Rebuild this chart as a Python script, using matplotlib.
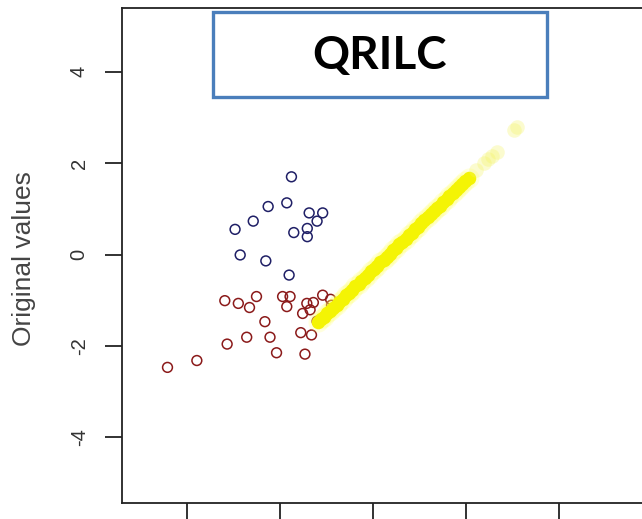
import matplotlib
matplotlib.use('Agg')
import matplotlib.pyplot as plt
from matplotlib.patches import Rectangle

# blue (imputed, upper group)
blue_x = [-1.75, -1.85, -2.25, -2.57, -2.96, -1.37, -1.08, -1.20, -1.70, -1.41, -1.41, -2.85, -2.30, -1.80]
blue_y = [1.70, 1.13, 1.05, 0.73, 0.55, 0.91, 0.91, 0.73, 0.48, 0.57, 0.39, -0.01, -0.14, -0.45]

# red (imputed, lower group)
red_x = [-3.18, -2.89, -2.65, -2.50, -1.94, -1.78, -1.85, -1.42, -1.28, -1.35, -1.51, -1.08, -0.91,
         -0.89, -1.20, -2.32, -2.71, -2.21, -1.55, -1.32, -3.13, -2.07, -1.46, -3.78, -4.41]
red_y = [-1.01, -1.07, -1.16, -0.92, -0.92, -0.92, -1.14, -1.07, -1.05, -1.21, -1.29, -0.89, -0.98,
         -1.11, -1.46, -1.47, -1.81, -1.81, -1.71, -1.76, -1.96, -2.15, -2.18, -2.32, -2.47]

# yellow (observed values)
yel_x = [-1.18, -1.12, -1.05, -0.98, -0.92, -0.85, -0.78, -0.72, -0.65, -0.58, -0.52, -0.45, -0.38,
         -0.31, -0.25, -0.18, -0.11, -0.04, 0.02, 0.09, 0.16, 0.23, 0.29, 0.36, 0.43, 0.50, 0.56,
         0.63, 0.70, 0.77, 0.83, 0.90, 0.97, 1.04, 1.10, 1.17, 1.24, 1.31, 1.37, 1.44, 1.51, 1.58,
         1.64, 1.71, 1.78, 1.85, 1.92, 1.98, 2.05]
yel_y = [-1.48, -1.42, -1.36, -1.28, -1.24, -1.16, -1.10, -1.03, -0.97, -0.89, -0.84, -0.77, -0.70,
         -0.64, -0.57, -0.51, -0.44, -0.37, -0.31, -0.25, -0.17, -0.11, -0.05, 0.02, 0.09, 0.15, 0.22,
         0.28, 0.35, 0.42, 0.48, 0.55, 0.61, 0.68, 0.75, 0.81, 0.88, 0.95, 1.01, 1.07, 1.14, 1.21,
         1.27, 1.34, 1.41, 1.47, 1.54, 1.61, 1.68]
faint_x = [2.20, 2.38, 2.47, 2.56, 2.66, 3.02, 3.08]
faint_y = [1.85, 2.00, 2.08, 2.16, 2.25, 2.72, 2.80]

y_ticks = [-4, -2, 0, 2, 4]
x_ticks = [-4, -2, 0, 2, 4]

W, H = 642, 519
fig = plt.figure(figsize=(W / 100, H / 100), dpi=100)
ax = fig.add_axes([122 / W, 16 / H, 540 / W, 495 / H])
ax.set_xlim((122 - 373) / 46.6, (662 - 373) / 46.6)
ax.set_ylim((254.5 - 503) / 45.7, (254.5 - 8) / 45.7)

ax.scatter(blue_x, blue_y, s=50, facecolors='none', edgecolors='#1f1f66', linewidths=1.1, zorder=3)
ax.scatter(red_x, red_y, s=50, facecolors='none', edgecolors='#8b1a1a', linewidths=1.1, zorder=3)

ax.scatter(yel_x, yel_y, s=210, color='#ffff60', alpha=0.2, linewidths=0, zorder=4)
ax.scatter(yel_x, yel_y, s=95, color='#f4f404', linewidths=0, zorder=5)
ax.scatter(faint_x, faint_y, s=110, color='#f4f460', alpha=0.3, linewidths=0, zorder=5)

for sp in ax.spines.values():
    sp.set_linewidth(1.3)
    sp.set_color('#222222')

ax.set_yticks(y_ticks)
ax.set_yticklabels([str(v) for v in y_ticks], rotation=90, va='center',
                   fontsize=14.5, family='Liberation Sans', color='#333333')
ax.set_xticks(x_ticks)
ax.set_xticklabels([])
ax.tick_params(axis='both', direction='out', length=12, width=1.3, color='#222222')
ax.tick_params(axis='y', pad=12)

fig.text(24 / W, 1 - 259 / H, 'Original values', rotation=90, ha='center', va='center',
         fontsize=19, family='Liberation Sans', color='#444444')

# title box
fig.patches.append(Rectangle((213 / W, 1 - 97 / H), 334 / W, 85 / H, transform=fig.transFigure,
                             facecolor='white', edgecolor='#4a7ebb', linewidth=2.4, zorder=10))
fig.text(380 / W, 1 - 56 / H, 'QRILC', ha='center', va='center', fontsize=33,
         fontweight='bold', family='Lato', color='black', zorder=11)

fig.savefig('out.png', dpi=100)
